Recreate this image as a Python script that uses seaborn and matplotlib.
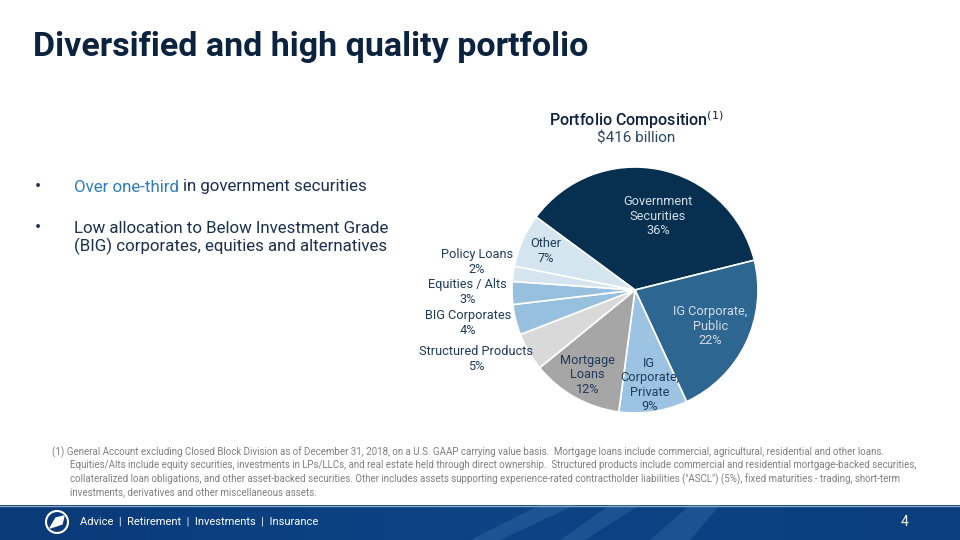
import matplotlib
matplotlib.use("Agg")
import matplotlib.pyplot as plt
from matplotlib import font_manager
from matplotlib.patches import Circle, Polygon
import seaborn as sns
import numpy as np

# datos del grafico
slice_names = ['Government\nSecurities', 'IG Corporate,\nPublic', 'IG\nCorporate,\nPrivate',
               'Mortgage\nLoans', 'Structured Products', 'BIG Corporates',
               'Equities / Alts', 'Policy Loans', 'Other']
slice_pct = [36, 22, 9, 12, 5, 4, 3, 2, 7]
slice_hex = ['#072f4f', '#2d6690', '#9cc4e2', '#a6a6a6', '#d9d9d9',
             '#97c0de', '#97c0de', '#d5e5f0', '#d5e5f0']

title = 'Diversified and high quality portfolio'
chart_title = 'Portfolio Composition'
chart_sub = '$416 billion'
footnote = ['(1) General Account excluding Closed Block Division as of December 31, 2018, on a U.S. GAAP carrying value basis.  Mortgage loans include commercial, agricultural, residential and other loans.',
            'Equities/Alts include equity securities, investments in LPs/LLCs, and real estate held through direct ownership.  Structured products include commercial and residential mortgage-backed securities,',
            'collateralized loan obligations, and other asset-backed securities. Other includes assets supporting experience-rated contractholder liabilities ("ASCL") (5%), fixed maturities - trading, short-term',
            'investments, derivatives and other miscellaneous assets.']
footer = 'Advice  |  Retirement  |  Investments  |  Insurance'

sns.set_theme(style='white')
installed = {f.name for f in font_manager.fontManager.ttflist}
narrow = 'Liberation Sans Narrow' if 'Liberation Sans Narrow' in installed else 'Roboto'
plt.rcParams['font.family'] = [narrow, 'DejaVu Sans']

fig = plt.figure(figsize=(9.6, 5.4), dpi=100)
fig.patch.set_facecolor('white')
renderer = fig.canvas.get_renderer()

# titulo
fig.text(33 / 960, 1 - 47 / 540, title, fontsize=24.5, fontweight='bold', color='#0c2340',
         va='center', ha='left')

# bullets
navy = '#1b2f4f'
fig.text(35 / 960, 1 - 187 / 540, '•', fontsize=13, color=navy, va='center')
t1 = fig.text(74 / 960, 1 - 187 / 540, 'Over one-third', fontsize=12.2, color='#2a7bbf', va='center')
x_end = t1.get_window_extent(renderer).x1
fig.text((x_end + 4) / 960, 1 - 187 / 540, 'in government securities', fontsize=12.2,
         color=navy, va='center')
fig.text(35 / 960, 1 - 228 / 540, '•', fontsize=13, color=navy, va='center')
fig.text(74 / 960, 1 - 238 / 540,
         'Low allocation to Below Investment Grade\n(BIG) corporates, equities and alternatives',
         fontsize=12.2, color=navy, va='center', linespacing=1.2)

# titulo del grafico
fig.text(636 / 960, 1 - 120 / 540, chart_title + r'$^{(1)}$', fontsize=11.5, color='#0c2340',
         ha='center', va='center', fontweight='medium')
fig.text(636 / 960, 1 - 138 / 540, chart_sub, fontsize=11, color='#2b4562', ha='center', va='center')

# torta
R = 123
a = 1.5
side = 2 * a * R
ax = fig.add_axes([(635 - side / 2) / 960, (540 - 290 - side / 2) / 540, side / 960, side / 540])
colors = sns.color_palette(slice_hex)
wedges, _ = ax.pie(slice_pct, colors=colors, startangle=143.6, counterclock=False,
                   wedgeprops=dict(edgecolor='white', linewidth=1.2))
ax.set_xlim(-a, a)
ax.set_ylim(-a, a)
ax.set_aspect('equal')
ax.axis('off')

inner_dist = {0: 0.63, 1: 0.68, 2: 0.78, 3: 0.79, 8: 0.79}
outer_xy = {4: (-1.29, -0.56), 5: (-1.36, -0.27), 6: (-1.36, -0.02), 7: (-1.285, 0.23)}
for i, (w, name, pct) in enumerate(zip(wedges, slice_names, slice_pct)):
    label = f'{name}\n{pct}%'
    if i in inner_dist:
        mid = np.deg2rad((w.theta1 + w.theta2) / 2)
        d = inner_dist[i]
        tc = '#d3dde8' if i < 2 else '#1f3b5c'
        if i == 0:
            mid = np.deg2rad(72.7)
        ax.text(d * np.cos(mid), d * np.sin(mid), label, ha='center', va='center',
                fontsize=9.2, color=tc, linespacing=1.15)
    else:
        x, y = outer_xy[i]
        ax.text(x, y, label, ha='center', va='center', fontsize=9.2, color='#1f3b5c',
                linespacing=1.2)

# nota al pie
for k, line in enumerate(footnote):
    x0 = 52 if k == 0 else 70
    fig.text(x0 / 960, 1 - (452 + 13.5 * k) / 540, line, fontsize=7.05, color='#7f7f7f',
             va='center', ha='left')

# barra inferior
bar = fig.add_axes([0, 0, 1, 35 / 540])
grad = np.linspace(0, 1, 256).reshape(1, -1)
cmap = sns.blend_palette(['#0a3a78', '#0c4486', '#0b3f7e'], as_cmap=True)
bar.imshow(grad, aspect='auto', cmap=cmap, extent=(0, 960, 0, 35))
for px in [(470, 540, 575, 500), (560, 610, 640, 585), (650, 690, 720, 690)]:
    bar.add_patch(Polygon([(px[0], 0), (px[1], 35), (px[2], 35), (px[3], 0)],
                          closed=True, color='#5b8fc4', alpha=0.22, lw=0))
bar.axhline(34.5, color='#8aa9c9', lw=1)
bar.add_patch(Circle((57, 18), 11, facecolor='#0a3a78', edgecolor='white', lw=1.5))
bar.add_patch(Polygon([(50, 12), (56, 22), (64, 24), (62, 16)], closed=True, color='white'))
bar.set_xlim(0, 960)
bar.set_ylim(0, 35)
bar.axis('off')
bar.text(80, 18, footer, fontsize=8, color='white', va='center', ha='left')
bar.text(905, 18, '4', fontsize=10, color='white', va='center', ha='center')

fig.savefig('out.png', dpi=100)
